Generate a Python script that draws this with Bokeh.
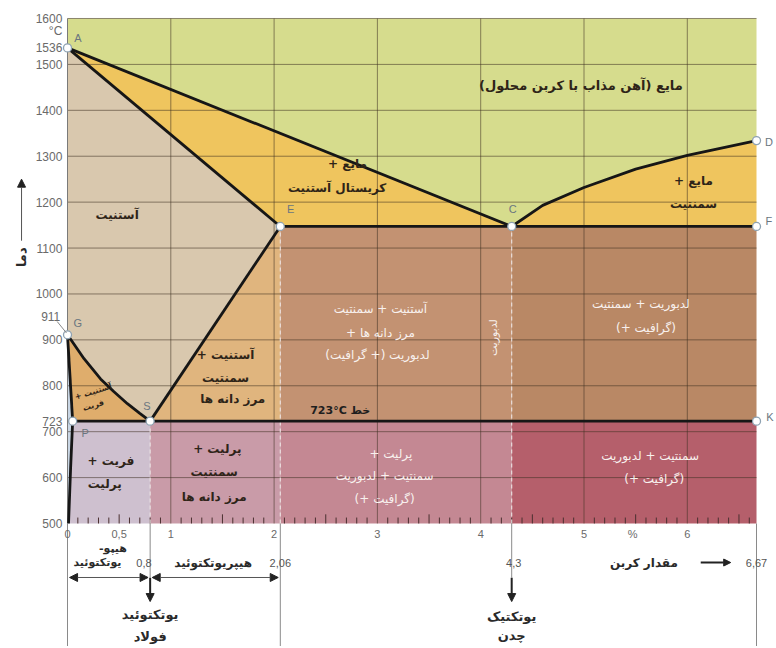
import numpy as np
from bokeh.plotting import figure
from bokeh.models import Range1d, Arrow, NormalHead, ColumnDataSource
from bokeh.core.properties import value
from bokeh.embed import file_html
from bokeh.resources import INLINE

RLM = "\u200f"


def rtl(s):
    return RLM + s + RLM


# ---------------- data ----------------
carbon_ticks = [0, 0.5, 1, 2, 3, 4, 5, 5.47, 6]
carbon_tick_labels = ["0", "0,5", "1", "2", "3", "4", "5", "%", "6"]
temp_ticks = [1600, 1536, 1500, 1400, 1300, 1200, 1100, 1000, 900, 800, 723, 700, 600, 500]
grid_carbon = [1, 2, 3, 4, 5, 6]
grid_temp = [600, 700, 800, 900, 1000, 1100, 1200, 1300, 1400, 1500, 1600]

point_names = ["A", "G", "P", "S", "E", "C", "D", "F", "K"]
point_carbon = [0, 0, 0.05, 0.8, 2.06, 4.3, 6.67, 6.67, 6.67]
point_temp = [1536, 911, 723, 723, 1147, 1147, 1334, 1147, 723]

cd_carbon = [4.3, 4.6, 5.0, 5.5, 6.0, 6.67]
cd_temp = [1147, 1193, 1232, 1272, 1302, 1334]
gs_carbon = [0, 0.16, 0.32, 0.45, 0.58, 0.7, 0.8]
gs_temp = [911, 859, 815, 787, 761, 740, 723]
pq_carbon = [0.05, 0.03, 0.01]
pq_temp = [723, 620, 500]

t_min, t_max, c_max = 500, 1600, 6.67
c_eutectoid, c_max_gamma, c_eutectic = 0.8, 2.06, 4.3
t_eutectoid, t_eutectic = 723, 1147

pt = {n: (c, t) for n, c, t in zip(point_names, point_carbon, point_temp)}
cd = list(zip(cd_carbon, cd_temp))
gs = list(zip(gs_carbon, gs_temp))
pq = list(zip(pq_carbon, pq_temp))

# ---------------- figure ----------------
Y_BOTTOM = 232.1
p = figure(width=774, height=646, x_range=Range1d(-0.6486, 6.8441),
           y_range=Range1d(Y_BOTTOM, 1639.2), x_axis_type=None, y_axis_type=None,
           toolbar_location=None, output_backend="svg", title=None,
           min_border=0, outline_line_color=None, background_fill_color="white")
p.xgrid.visible = False
p.ygrid.visible = False

# ---- phase regions (polygons) ----
regions = [
    ([(0, t_max), (c_max, t_max)] + cd[::-1] + [pt["A"]], "#d6dc8d"),      # liquid
    ([pt["A"], pt["C"], pt["E"]], "#efc55e"),                              # L + austenite
    (cd + [pt["F"]], "#efc55e"),                                           # L + cementite
    ([pt["A"], pt["E"]] + gs[::-1], "#d9c8ae"),                            # austenite
    ([pt["E"], (c_max_gamma, t_eutectoid), pt["S"]], "#e0b57e"),           # austenite + cementite
    (gs + [pt["P"]], "#dfad6c"),                                           # austenite + ferrite
    ([pt["G"], pt["P"], (0, t_eutectoid)], "#c9d6e4"),                     # ferrite
    ([(0, t_eutectoid)] + pq + [(0, t_min)], "#c9d6e4"),                   # ferrite
    (pq + [(c_eutectoid, t_min), pt["S"]], "#cec0cf"),                     # ferrite + pearlite
]
src_reg = ColumnDataSource(dict(xs=[[q[0] for q in r[0]] for r in regions],
                                ys=[[q[1] for q in r[0]] for r in regions],
                                color=[r[1] for r in regions]))
p.patches("xs", "ys", fill_color="color", line_color=None, source=src_reg)

zones_left = [c_max_gamma, c_eutectic, c_eutectoid, c_max_gamma, c_eutectic]
zones_right = [c_eutectic, c_max, c_max_gamma, c_eutectic, c_max]
zones_bottom = [t_eutectoid, t_eutectoid, t_min, t_min, t_min]
zones_top = [t_eutectic, t_eutectic, t_eutectoid, t_eutectoid, t_eutectoid]
zones_color = ["#c39272", "#b98865", "#c99ba8", "#c48893", "#b55f6b"]
p.quad(left=zones_left, right=zones_right, bottom=zones_bottom, top=zones_top,
       fill_color=zones_color, line_color=None)

# ---- grid ----
p.segment(x0=grid_carbon, y0=[t_min] * len(grid_carbon), x1=grid_carbon,
          y1=[t_max] * len(grid_carbon), line_color="#3e3020", line_alpha=0.55, line_width=1)
p.segment(x0=[0] * len(grid_temp), y0=grid_temp, x1=[c_max] * len(grid_temp),
          y1=grid_temp, line_color="#3e3020", line_alpha=0.55, line_width=1)

# ---- small ticks along the bottom ----
minor = np.round(np.arange(0.1, 6.65, 0.1), 2)
minor = [m for m in minor if abs(m - round(m)) > 1e-6]
tick_len = [20 if abs(m * 2 - round(m * 2)) < 1e-6 else 13 for m in minor]
p.segment(x0=minor, y0=[t_min] * len(minor), x1=minor,
          y1=[t_min + l for l in tick_len], line_color="#4a3030", line_width=1)

# ---- dashed verticals ----
p.segment(x0=[c_eutectoid, c_max_gamma, c_eutectic], y0=[t_min] * 3,
          x1=[c_eutectoid, c_max_gamma, c_eutectic], y1=[t_eutectoid, t_eutectic, t_eutectic],
          line_color="#eee8e8", line_alpha=0.85, line_width=1.2, line_dash="4 3")

# left edge
p.segment(x0=[0], y0=[t_min], x1=[0], y1=[t_max], line_color="#7a7a7a", line_width=1)

# ---- phase boundaries ----
bw, bc = 2.8, "#161616"
for seg in [
    [pt["A"], pt["C"]], cd, [pt["A"], pt["E"]], [pt["E"], pt["S"]], gs,
    [pt["G"], pt["P"]], pq, [pt["E"], pt["F"]], [pt["P"], pt["K"]],
]:
    p.line([q[0] for q in seg], [q[1] for q in seg], line_color=bc, line_width=bw)

# points
p.scatter(point_carbon, point_temp, size=8, fill_color="white",
          line_color="#8ea2b2", line_width=1.3)

# ---- lines below the diagram ----
p.segment(x0=[0, c_eutectoid, c_max_gamma, c_eutectic, c_max],
          y0=[t_min] * 5, x1=[0, c_eutectoid, c_max_gamma, c_eutectic, c_max],
          y1=[Y_BOTTOM, 382, Y_BOTTOM, 382, Y_BOTTOM], line_color="#8a8a8a", line_width=1)

for (x0, x1) in [(0, c_eutectoid), (c_eutectoid, c_max_gamma)]:
    p.add_layout(Arrow(start=NormalHead(size=8, fill_color="#222", line_color="#222"),
                       end=NormalHead(size=8, fill_color="#222", line_color="#222"),
                       x_start=x0 + 0.02, y_start=382.4, x_end=x1 - 0.02, y_end=382.4,
                       line_color="#555", line_width=1))
for xc in [c_eutectoid, c_eutectic]:
    p.add_layout(Arrow(end=NormalHead(size=8, fill_color="#222", line_color="#222"),
                       x_start=xc, y_start=382, x_end=xc, y_end=330,
                       line_color="#222", line_width=2))
p.add_layout(Arrow(end=NormalHead(size=7, fill_color="#222", line_color="#222"),
                   x_start=6.13, y_start=415, x_end=6.42, y_end=415,
                   line_color="#222", line_width=2))
# temperature arrow on the left
p.add_layout(Arrow(end=NormalHead(size=8, fill_color="#222", line_color="#222"),
                   x_start=-0.445, y_start=1116, x_end=-0.445, y_end=1250,
                   line_color="#555", line_width=1))

# ---- tick labels ----
font_num = value("Liberation Sans")
p.text(x=carbon_ticks, y=[478] * len(carbon_ticks), text=carbon_tick_labels,
       text_font=font_num, text_font_size="11px", text_color="#6a6a6a",
       text_align="center", text_baseline="middle")
p.text(x=[-0.05] * len(temp_ticks), y=temp_ticks, text=[str(t) for t in temp_ticks],
       text_font=font_num, text_font_size="12px", text_color="#6a6a6a",
       text_align="right", text_baseline="middle")
p.text(x=[-0.05, -0.07], y=[1572, 951], text=["°C", "911"],
       text_font=font_num, text_font_size="12px", text_color="#6a6a6a",
       text_align="right", text_baseline="middle")
p.segment(x0=[-0.1], y0=[940], x1=[-0.01], y1=[915], line_color="#888", line_width=1)

# point letters
p.text(x=[0.1, 0.1, 0.17, 0.77, 2.16, 4.31, 6.79, 6.79, 6.8],
       y=[1558, 936, 698, 757, 1186, 1186, 1330, 1160, 731], text=point_names,
       text_font=font_num, text_font_size="11px", text_color="#6a7680",
       text_align="center", text_baseline="middle")

# ---- Persian labels ----
fa = value("DejaVu Sans")
p.text(x=[4.97], y=[1454], text=[rtl("مایع (آهن مذاب با کربن محلول)")],
       text_font=fa, text_font_size="13px", text_font_style="bold", text_color="#2e2418",
       text_align="center", text_baseline="middle")
dark = [
    ("مایع +", 2.71, 1284), ("کریستال آستنیت", 2.61, 1230),
    ("مایع +", 6.06, 1247), ("سمنتیت", 6.06, 1197),
    ("آستنیت", 0.48, 1171),
    ("آستنیت +", 1.53, 866), ("سمنتیت", 1.53, 816), ("مرز دانه ها", 1.6, 772),
    ("پرلیت +", 1.45, 663), ("سمنتیت", 1.42, 612), ("مرز دانه ها", 1.42, 557),
    ("فریت +", 0.42, 637), ("پرلیت", 0.36, 587),
]
p.text(x=[d[1] for d in dark], y=[d[2] for d in dark], text=[rtl(d[0]) for d in dark],
       text_font=fa, text_font_size="12px", text_font_style="bold", text_color="#2e2418",
       text_align="center", text_baseline="middle")
p.text(x=[2.64], y=[746], text=["723°C خط"], text_font=fa, text_font_size="11px",
       text_font_style="bold", text_color="#1e1e1e", text_align="center", text_baseline="middle")
p.text(x=[0.25, 0.25], y=[787, 757], text=[rtl("آستنیت +"), rtl("فریت")], angle=0.3,
       text_font=fa, text_font_size="8px", text_font_style="bold", text_color="#2e2418",
       text_align="center", text_baseline="middle")

white = [
    ("آستنیت + سمنتیت", 3.03, 968), ("مرز دانه ها +", 3.03, 916), ("لدبوریت (+ گرافیت)", 3.0, 866),
    ("لدبوریت + سمنتیت", 5.55, 979), ("(گرافیت +)", 5.6, 925),
    ("پرلیت +", 3.13, 652), ("سمنتیت + لدبوریت", 3.07, 604), ("(گرافیت +)", 3.07, 554),
    ("سمنتیت + لدبوریت", 5.64, 648), ("(گرافیت +)", 5.68, 598),
]
p.text(x=[d[1] for d in white], y=[d[2] for d in white], text=[rtl(d[0]) for d in white],
       text_font=fa, text_font_size="12px", text_color="#f8f1ee",
       text_align="center", text_baseline="middle")
p.text(x=[4.12], y=[905], text=[rtl("لدبوریت")], angle=np.pi / 2,
       text_font=fa, text_font_size="11px", text_color="#f8f1ee",
       text_align="center", text_baseline="middle")

# bottom annotations
bottom = [
    ("هیپو-", 0.44, 445.5, "11px"),
    ("یوتکتوئید", 0.29, 415, "11px"),
    ("هیپریوتکتوئید", 1.41, 415, "12px"),
    ("مقدار کربن", 5.58, 415, "12px"),
    ("یوتکتوئید", c_eutectoid, 302, "13px"),
    ("فولاد", c_eutectoid, 254, "13px"),
    ("یوتکتیک", c_eutectic, 297, "13px"),
    ("چدن", c_eutectic, 257, "13px"),
]
for txt, xx, yy, fs in bottom:
    p.text(x=[xx], y=[yy], text=[rtl(txt)], text_font=fa, text_font_size=fs,
           text_font_style="bold", text_color="#2a2a2a",
           text_align="center", text_baseline="middle")
p.text(x=[0.74, 2.06, 4.32, c_max], y=[415] * 4, text=["0,8", "2,06", "4,3", "6,67"],
       text_font=font_num, text_font_size="11px", text_color="#555555",
       text_align="center", text_baseline="middle")
p.text(x=[-0.445], y=[1080], text=[rtl("دما")], angle=np.pi / 2, text_font=fa,
       text_font_size="13px", text_font_style="bold", text_color="#2a2a2a",
       text_align="center", text_baseline="middle")

open("out.html", "w").write(file_html(p, INLINE))
